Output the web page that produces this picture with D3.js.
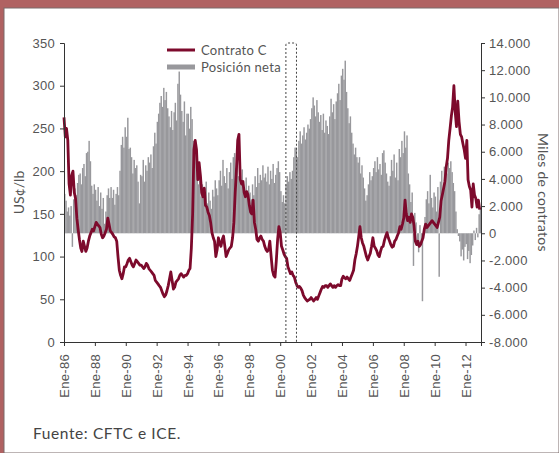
<!DOCTYPE html>
<html>
<head>
<meta charset="utf-8">
<script src="https://cdn.jsdelivr.net/npm/d3@7"></script>
<style>
  body { margin: 0; background: #b06262; }
  svg { display: block; font-family: Lato, "Open Sans", sans-serif; }
  .axis path, .axis line { stroke: #333; }
  .axis text { fill: #555; font-size: 13px; letter-spacing: 0.3px; }
</style>
</head>
<body>
<div id="grafico"></div>
<script>
// datos mensuales desde Ene-1986
var inicio = "1986-01";

// precio Contrato C, US¢/lb (un valor por mes)
var precio = [
  263, 240, 250, 236, 185, 172, 195, 200, 175, 168, 145, 132, // 1986
  120, 110, 106, 118, 112, 106, 110, 118, 124, 128, 132, 130, // 1987
  135, 140, 138, 136, 134, 126, 122, 124, 128, 132, 145, 138, // 1988
  130, 128, 126, 123, 122, 118, 100, 84, 78, 74, 80, 88,      // 1989
  88, 92, 96, 98, 94, 90, 88, 92, 96, 94, 92, 90,             // 1990
  90, 88, 86, 88, 92, 90, 86, 84, 82, 80, 78, 72,             // 1991
  70, 68, 66, 64, 60, 56, 53, 55, 60, 66, 74, 82,             // 1992
  72, 62, 64, 70, 72, 74, 78, 80, 78, 76, 78, 78,             // 1993
  80, 84, 86, 110, 150, 225, 236, 225, 190, 210, 195, 175,    // 1994
  170, 180, 160, 158, 152, 148, 140, 128, 122, 118, 100, 108, // 1995
  122, 115, 112, 120, 124, 112, 100, 104, 108, 110, 112, 122, // 1996
  140, 175, 200, 236, 243, 190, 185, 188, 175, 170, 176, 172, // 1997
  160, 152, 150, 166, 140, 132, 120, 118, 122, 124, 120, 118, // 1998
  112, 108, 106, 108, 118, 100, 84, 78, 76, 95, 120, 135,     // 1999
  128, 112, 108, 103, 100, 98, 88, 84, 80, 82, 78, 76,        // 2000
  70, 66, 64, 65, 63, 60, 55, 52, 50, 48, 49, 50,             // 2001
  52, 50, 48, 50, 52, 50, 54, 58, 62, 65, 64, 66,             // 2002
  66, 64, 66, 68, 66, 64, 66, 64, 66, 67, 66, 66,             // 2003
  74, 77, 75, 74, 76, 74, 72, 76, 80, 84, 96, 103,            // 2004
  112, 124, 135, 122, 116, 112, 106, 100, 96, 100, 104, 112,  // 2005
  122, 112, 110, 107, 102, 100, 106, 111, 112, 119, 124, 128, // 2006
  122, 118, 114, 111, 112, 118, 120, 124, 128, 135, 132, 138, // 2007
  145, 166, 150, 142, 146, 140, 150, 146, 136, 118, 114, 118, // 2008
  112, 114, 118, 122, 132, 138, 134, 136, 138, 140, 142, 140, // 2009
  138, 136, 134, 140, 146, 165, 172, 180, 188, 205, 215, 236, // 2010
  250, 265, 275, 300, 270, 252, 282, 258, 243, 240, 232, 225, // 2011
  215, 236, 190, 182, 178, 158, 185, 172, 168, 158, 166, 155  // 2012
];

// posición neta, miles de contratos
var posicionNeta = [
  2900, 2400, 1600, 1900, 1300, 2000, -1000, 2500, 3300, 2800, 3700, 4300, // 1986
  4400, 3600, 4800, 5100, 4200, 5900, 6000, 6800, 5300, 3500, 2900, 3600,  // 1987
  3200, 2400, 3400, 2000, 3000, 1800, 2600, 700, 1600, 2800, 3300, 2600,   // 1988
  3400, 2600, 3200, 2100, 2900, 3400, 2800, 4600, 6500, 7100, 6300, 7800,  // 1989
  7100, 8500, 6200, 6300, 5600, 4400, 5400, 4800, 5000, 3800, 2200, 4300,  // 1990
  4200, 5400, 3800, 5000, 4600, 5600, 5200, 5800, 4800, 6400, 7400, 6600,  // 1991
  8200, 8800, 9600, 10100, 9300, 10700, 9800, 10400, 9200, 8600, 7800, 9000, // 1992
  7600, 8900, 9600, 8300, 11000, 11900, 10200, 9000, 8200, 9700, 7200, 8800, // 1993
  8800, 7700, 9300, 8400, 6800, 5200, 6400, 4400, 3600, 4300, 2700, 3600,  // 1994
  3400, 2600, 3800, 2200, 3000, 2400, 1800, 3200, 2700, 3900, 3300, 2800,  // 1995
  3900, 4600, 3500, 5400, 4200, 3700, 4800, 3300, 4500, 5200, 4000, 5600,  // 1996
  5900, 4800, 6300, 4200, 5200, 3800, 4700, 3900, 3200, 4100, 2900, 3500,  // 1997
  3000, 2500, 3600, 2800, 4200, 3400, 4800, 3700, 4300, 3900, 5000, 4100,  // 1998
  4400, 3800, 4900, 3600, 4600, 4000, 5100, 3700, 4300, 4800, 5300, 4500,  // 1999
  3100, 2300, 2800, 2200, 3600, 4200, 3800, 4500, 4000, 4600, 5600, 6300,  // 2000
  6300, 5600, 6800, 7500, 6600, 7200, 7800, 6900, 7400, 8000, 7700, 8400,  // 2001
  9200, 10000, 9400, 8600, 9800, 8900, 8200, 8700, 7600, 8800, 7400, 8300, // 2002
  7900, 7300, 8600, 9900, 8900, 9500, 8400, 9700, 10300, 11000, 9800, 11600, // 2003
  12100, 11300, 12700, 10400, 9200, 8100, 8600, 7400, 6600, 5800, 6300, 5600, // 2004
  5200, 5600, 4400, 5000, 4100, 3300, 2400, 2800, 3600, 4500, 3900, 4200,  // 2005
  4800, 5300, 4500, 5600, 4700, 5100, 4300, 5900, 6100, 5200, 4400, 3800,  // 2006
  3500, 4200, 5400, 4600, 5800, 4100, 5200, 3900, 6200, 5600, 6800, 5900,  // 2007
  7500, 6300, 7200, 4400, 3600, 2300, 3000, -2400, 1500, 800, -900, -1400, // 2008
  600, -800, -5000, 400, 1200, 2500, 3100, 2200, 4300, 2600, 1900, 3000,   // 2009
  2700, 1600, 3400, -3200, 3800, 4600, 3200, 4900, 3700, 4400, 5200, 4800, // 2010
  5300, 4500, 3700, 3100, 1600, 300, -200, -600, -1700, -1200, -2000, -1000, // 2011
  -800, -1900, -1300, -2200, -1600, -900, 200, -500, 400, -300, 1400, 1800 // 2012
];

var ticksPrecio = d3.range(0, 351, 50);
var ticksPosicion = d3.range(-8000, 14001, 2000);
var aniosEje = d3.range(1986, 2013, 2);
var recuadro = ["2000-05-15", "2001-01-20"]; // periodo marcado con línea punteada

var width = 559, height = 453;
var margin = {top: 43, bottom: 111, left: 64, right: 78};

var parseMes = d3.timeParse("%Y-%m");
var fechas = precio.map(function (d, i) { return d3.timeMonth.offset(parseMes(inicio), i); });

var x = d3.scaleTime()
  .domain([parseMes(inicio), d3.timeMonth.offset(parseMes(inicio), precio.length)])
  .range([margin.left, width - margin.right]);

var yIzq = d3.scaleLinear().domain([0, 350]).range([height - margin.bottom, margin.top]);
var yDer = d3.scaleLinear().domain([-8000, 14000]).range([height - margin.bottom, margin.top]);

var locale = d3.formatLocale({decimal: ",", thousands: ".", grouping: [3], currency: ["", ""], minus: "-"});
var fmt = locale.format(",.0f");

var svg = d3.select('#grafico').append('svg')
  .attr('width', width)
  .attr('height', height);

// marco
svg.append('rect')
  .attr('x', 4).attr('y', 8)
  .attr('width', width - 4).attr('height', height - 8)
  .attr('fill', '#fff')
  .attr('stroke', '#7a6a6a').attr('stroke-width', 1);

// barras posicion neta
var paso = x(fechas[1]) - x(fechas[0]);
svg.append('g').selectAll('rect')
  .data(posicionNeta)
  .enter().append('rect')
  .attr('x', function (d, i) { return x(fechas[i]); })
  .attr('width', paso + 0.15)
  .attr('y', function (d) { return Math.min(yDer(d), yDer(0)); })
  .attr('height', function (d) { return Math.abs(yDer(d) - yDer(0)); })
  .attr('fill', '#98989c');

// linea precio
var linea = d3.line()
  .x(function (d, i) { return x(fechas[i]); })
  .y(function (d) { return yIzq(d); });

svg.append('path')
  .datum(precio)
  .attr('d', linea)
  .attr('fill', 'none')
  .attr('stroke', '#7d0a2c')
  .attr('stroke-width', 2.8)
  .attr('stroke-linejoin', 'round');

// recuadro punteado
var y0 = yIzq(0), y1 = yIzq(350);
var xa = x(new Date(recuadro[0])), xb = x(new Date(recuadro[1]));
svg.append('path')
  .attr('d', 'M' + xa + ',' + y0 + 'V' + (y1 + 2) + 'Q' + xa + ',' + y1 + ' ' + (xa + 2) + ',' + y1 +
    'H' + (xb - 2) + 'Q' + xb + ',' + y1 + ' ' + xb + ',' + (y1 + 2) + 'V' + y0)
  .attr('fill', 'none')
  .attr('stroke', '#444')
  .attr('stroke-width', 1)
  .attr('stroke-dasharray', '2,2');

// ejes
svg.append('g')
  .attr('class', 'axis')
  .attr('transform', 'translate(' + margin.left + ',0)')
  .call(d3.axisLeft(yIzq).tickValues(ticksPrecio).tickSize(4).tickPadding(5));

svg.append('g')
  .attr('class', 'axis')
  .attr('transform', 'translate(' + (width - margin.right) + ',0)')
  .call(d3.axisRight(yDer).tickValues(ticksPosicion).tickSize(4).tickPadding(4).tickFormat(fmt));

var ejeX = svg.append('g')
  .attr('class', 'axis')
  .attr('transform', 'translate(0,' + (height - margin.bottom) + ')')
  .call(d3.axisBottom(x)
    .tickValues(aniosEje.map(function (a) { return new Date(a, 0, 1); }))
    .tickSize(4)
    .tickFormat(function (d) { return 'Ene-' + d3.timeFormat('%y')(d); }));

ejeX.selectAll('text')
  .attr('transform', 'rotate(-90)')
  .attr('text-anchor', 'end')
  .attr('x', -12)
  .attr('y', 0)
  .attr('dy', '0.35em');

// titulos de ejes
svg.append('text')
  .attr('transform', 'translate(19,' + ((y0 + y1) / 2) + ') rotate(-90)')
  .attr('text-anchor', 'middle')
  .attr('dy', '0.35em')
  .attr('fill', '#555')
  .style('font-size', '14px')
  .text('US¢/lb');

svg.append('text')
  .attr('transform', 'translate(543,' + ((y0 + y1) / 2) + ') rotate(90)')
  .attr('text-anchor', 'middle')
  .attr('dy', '0.35em')
  .attr('fill', '#555')
  .style('font-size', '14px')
  .style('letter-spacing', '0.3px')
  .text('Miles de contratos');

// leyenda
var leyenda = svg.append('g').attr('transform', 'translate(167,50)');
leyenda.append('line')
  .attr('x1', 0).attr('x2', 28).attr('y1', 0).attr('y2', 0)
  .attr('stroke', '#7d0a2c').attr('stroke-width', 3);
leyenda.append('text')
  .attr('x', 34).attr('y', 0).attr('dy', '0.35em')
  .attr('fill', '#555').style('font-size', '13px').style('letter-spacing', '0.3px')
  .text('Contrato C');
leyenda.append('rect')
  .attr('x', 0).attr('y', 14.5).attr('width', 28).attr('height', 5)
  .attr('fill', '#98989c');
leyenda.append('text')
  .attr('x', 34).attr('y', 17).attr('dy', '0.35em')
  .attr('fill', '#555').style('font-size', '13px').style('letter-spacing', '0.3px')
  .text('Posición neta');

// fuente
svg.append('text')
  .attr('x', 33).attr('y', 439)
  .attr('fill', '#444')
  .style('font-size', '15.5px')
  .style('letter-spacing', '0.6px')
  .text('Fuente: CFTC e ICE.');
</script>
</body>
</html>
